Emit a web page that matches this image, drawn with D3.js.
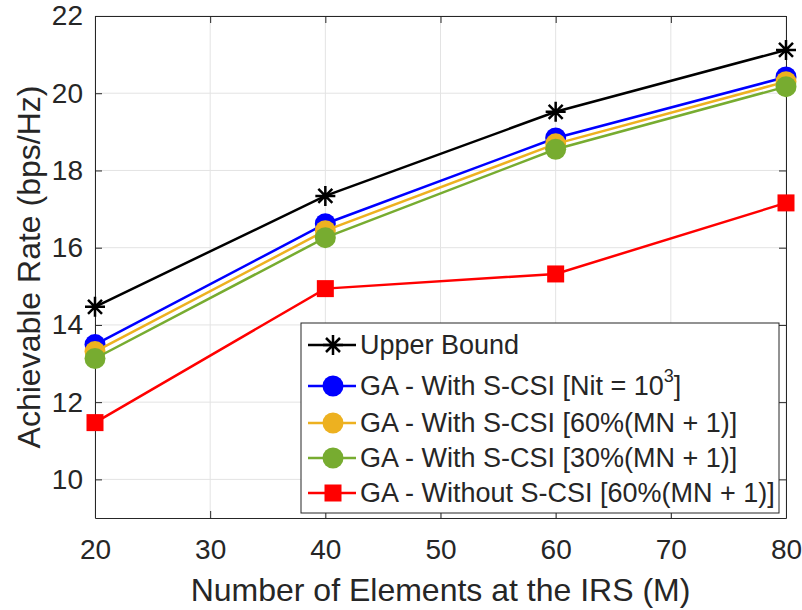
<!DOCTYPE html>
<html>
<head>
<meta charset="utf-8">
<title>Achievable Rate</title>
<script src="https://cdn.jsdelivr.net/npm/d3@7"></script>
<style>
  body { margin: 0; background: #fff; }
  text { font-family: "Liberation Sans", Arial, sans-serif; fill: #262626; }
</style>
</head>
<body>
<div id="chart"></div>
<script>
var elements = [20, 40, 60, 80];
var upperBound = [14.47, 17.34, 19.52, 21.12];
var gaNit = [13.49, 16.62, 18.84, 20.42];
var ga60 = [13.31, 16.44, 18.69, 20.30];
var ga30 = [13.13, 16.26, 18.55, 20.17];
var gaNoCsi = [11.47, 14.94, 15.32, 17.16];
var xTicks = [20, 30, 40, 50, 60, 70, 80];
var yTicks = [10, 12, 14, 16, 18, 20, 22];

var series = [
  { name: "Upper Bound", values: upperBound, color: "#000000", marker: "star" },
  { name: "GA - With S-CSI [Nit = 10", sup: "3", tail: "]", values: gaNit, color: "#0000ff", marker: "circle" },
  { name: "GA - With S-CSI [60%(MN + 1)]", values: ga60, color: "#edb120", marker: "circle" },
  { name: "GA - With S-CSI [30%(MN + 1)]", values: ga30, color: "#77ac30", marker: "circle" },
  { name: "GA - Without S-CSI [60%(MN + 1)]", values: gaNoCsi, color: "#ff0000", marker: "square" }
];
var legendRows = [22, 63, 100, 135, 170];

var W = 802, H = 610;
var m = { left: 95, right: 16, top: 16, bottom: 92 };
var svg = d3.select("#chart").append("svg").attr("width", W).attr("height", H);

var x = d3.scaleLinear().domain([20, 80]).range([m.left, W - m.right]);
var y = d3.scaleLinear().domain([9, 22]).range([H - m.bottom, m.top]);

// grid
svg.append("g").selectAll("line.gx").data(xTicks).enter().append("line")
  .attr("x1", d => x(d)).attr("x2", d => x(d))
  .attr("y1", y(9)).attr("y2", y(22))
  .attr("stroke", "#e3e3e3").attr("stroke-width", 1);
svg.append("g").selectAll("line.gy").data(yTicks).enter().append("line")
  .attr("x1", x(20)).attr("x2", x(80))
  .attr("y1", d => y(d)).attr("y2", d => y(d))
  .attr("stroke", "#e3e3e3").attr("stroke-width", 1);

// axes (ticks inward)
var gx = svg.append("g").attr("transform", "translate(0," + y(9) + ")")
  .call(d3.axisBottom(x).tickValues(xTicks).tickSizeInner(-7).tickSizeOuter(0).tickPadding(21));
var gy = svg.append("g").attr("transform", "translate(" + x(20) + ",0)")
  .call(d3.axisLeft(y).tickValues(yTicks).tickSizeInner(-7).tickSizeOuter(0).tickPadding(12));
var gxt = svg.append("g").attr("transform", "translate(0," + y(22) + ")")
  .call(d3.axisTop(x).tickValues(xTicks).tickSizeInner(-7).tickSizeOuter(0).tickFormat(""));
var gyr = svg.append("g").attr("transform", "translate(" + x(80) + ",0)")
  .call(d3.axisRight(y).tickValues(yTicks).tickSizeInner(-7).tickSizeOuter(0).tickFormat(""));
[gx, gy, gxt, gyr].forEach(function (g) {
  g.attr("font-size", 28).attr("font-family", null);
  g.selectAll("path, line").attr("stroke", "#262626");
  g.selectAll("text").attr("fill", "#262626");
});

// axis labels
svg.append("text").attr("x", (x(20) + x(80)) / 2).attr("y", H - 9)
  .attr("text-anchor", "middle").attr("font-size", 32)
  .text("Number of Elements at the IRS (M)");
svg.append("text").attr("transform", "translate(40," + (y(9) + y(22)) / 2 + ") rotate(-90)")
  .attr("text-anchor", "middle").attr("font-size", 32)
  .text("Achievable Rate (bps/Hz)");

// markers
function drawMarker(g, type, color, cx, cy) {
  if (type === "circle") {
    g.append("circle").attr("cx", cx).attr("cy", cy).attr("r", 10.5).attr("fill", color);
  } else if (type === "square") {
    g.append("rect").attr("x", cx - 8.5).attr("y", cy - 8.5).attr("width", 17).attr("height", 17).attr("fill", color);
  } else {
    var r = 10;
    var p = "M" + (cx - r) + "," + cy + "H" + (cx + r) +
      "M" + cx + "," + (cy - r) + "V" + (cy + r) +
      "M" + (cx - r * 0.7) + "," + (cy - r * 0.7) + "L" + (cx + r * 0.7) + "," + (cy + r * 0.7) +
      "M" + (cx - r * 0.7) + "," + (cy + r * 0.7) + "L" + (cx + r * 0.7) + "," + (cy - r * 0.7);
    g.append("path").attr("d", p).attr("stroke", color).attr("stroke-width", 2.5).attr("fill", "none");
  }
}

var line = d3.line().x((d, i) => x(elements[i])).y(d => y(d));
series.forEach(function (s) {
  var g = svg.append("g");
  g.append("path").datum(s.values).attr("d", line)
    .attr("fill", "none").attr("stroke", s.color).attr("stroke-width", 2.5);
  s.values.forEach(function (v, i) { drawMarker(g, s.marker, s.color, x(elements[i]), y(v)); });
});

// legend
var lg = svg.append("g").attr("transform", "translate(301,323)");
lg.append("rect").attr("width", 478).attr("height", 190)
  .attr("fill", "#fff").attr("stroke", "#262626").attr("stroke-width", 1);
series.forEach(function (s, i) {
  var cy = legendRows[i];
  lg.append("line").attr("x1", 7).attr("x2", 55).attr("y1", cy).attr("y2", cy)
    .attr("stroke", s.color).attr("stroke-width", 2.5);
  drawMarker(lg, s.marker, s.color, 32, cy);
  var t = lg.append("text").attr("x", 59).attr("y", cy + 9).attr("font-size", 27).attr("fill", "#000");
  t.append("tspan").text(s.name);
  if (s.sup) {
    t.append("tspan").attr("font-size", 18).attr("dy", -13).text(s.sup);
    t.append("tspan").attr("dy", 13).text(s.tail);
  }
});
</script>
</body>
</html>
